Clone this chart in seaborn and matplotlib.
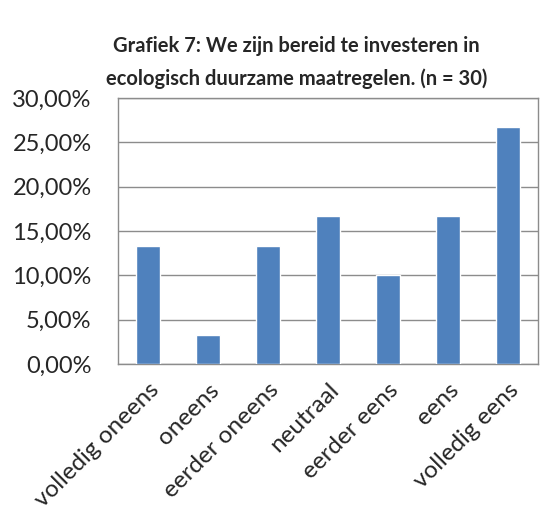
import matplotlib
matplotlib.use("Agg")
import matplotlib.pyplot as plt
import seaborn as sns
import pandas as pd
from matplotlib.ticker import FuncFormatter

'''DATA'''
categories = ["volledig oneens", "oneens", "eerder oneens", "neutraal",
              "eerder eens", "eens", "volledig eens"]
percentages = [13.33, 3.33, 13.33, 16.67, 10.00, 16.67, 26.67]
title = "Grafiek 7: We zijn bereid te investeren in\necologisch duurzame maatregelen. (n = 30)"

df = pd.DataFrame({"antwoord": categories, "procent": percentages})

'''PLOT'''
sns.set_style("white")
plt.rcParams['font.family'] = ['Lato', 'DejaVu Sans']

fig = plt.figure(figsize=(5.44, 5.15), dpi=100)
ax = fig.add_axes([0.217, 0.293, 0.772, 0.517])

sns.barplot(data=df, x="antwoord", y="procent", color="#4F81BD",
            saturation=1, width=0.4, ax=ax, zorder=3)

ax.set_ylim(0, 30)
ax.set_yticks([0, 5, 10, 15, 20, 25, 30])
ax.yaxis.set_major_formatter(FuncFormatter(lambda v, p: f"{v:.2f}%".replace(".", ",")))
ax.grid(axis="y", color="#8c8c8c", linewidth=1, zorder=0)
for s in ax.spines.values():
    s.set_color("#8c8c8c")
    s.set_linewidth(1)

ax.set_xlabel("")
ax.set_ylabel("")
ax.tick_params(axis="y", labelsize=17, length=0, pad=19)
ax.tick_params(axis="x", labelsize=17.5, length=0, pad=11)
plt.setp(ax.get_xticklabels(), rotation=45, ha="right", rotation_mode="anchor")

fig.text(0.545, 0.93, title, fontsize=14.5, fontweight="bold", ha="center",
         va="top", linespacing=1.75)

plt.savefig("out.png", dpi=100)
